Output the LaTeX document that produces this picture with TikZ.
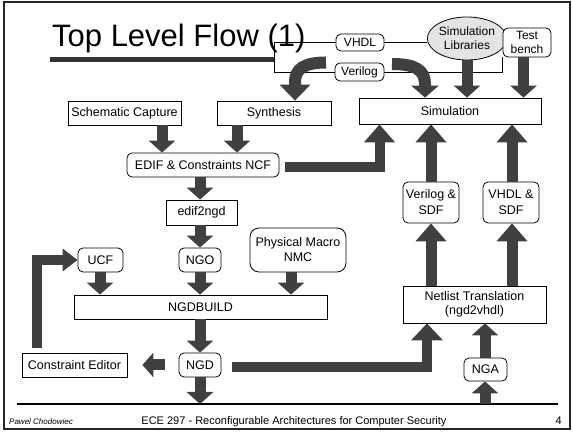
\documentclass[tikz,border=0pt]{standalone}
\usepackage{fontspec}
\setmainfont{Liberation Sans}
\usetikzlibrary{arrows.meta,calc,shapes.geometric}

\definecolor{arrowgray}{HTML}{404040}
\definecolor{rulegray}{HTML}{333333}
\definecolor{libgray}{HTML}{E4E4E4}

\begin{document}
\begin{tikzpicture}[x=1pt,y=-1pt,
  box/.style={draw=black, line width=0.8pt, fill=white, inner sep=0pt, align=center,
              font=\fontsize{12.5}{15}\selectfont},
  rbox/.style={box, rounded corners=5pt},
  blk/.style={draw=arrowgray, line width=11pt, line join=miter,
              -{Triangle[width=26pt,length=12pt]}},
  bigblk/.style={blk, -{Triangle[width=30pt,length=18pt]}},
  thin/.style={draw=black, line width=0.8pt}
]
% page and frame
\useasboundingbox (0,0) rectangle (573,435);
\fill[white] (0,0) rectangle (573,435);
\draw[line width=2.5pt, black!85] (4,2) rectangle (570,429);

% title
\node[anchor=base west, inner sep=0pt, font=\fontsize{31}{36}\selectfont] (title) at (52,47) {Top Level Flow (1)};
\coordinate (busBL) at (274,72);
\coordinate (rule) at (50,59.5);

% HDL source boxes
\node[rbox, font=\fontsize{12}{14}\selectfont, minimum width=48pt, minimum height=17pt] (vhdl) at (360,42.5) {VHDL};
\node[rbox, font=\fontsize{12}{14}\selectfont, minimum width=49pt, minimum height=18pt] (verilog) at (359.5,72) {Verilog};
\node[ellipse, draw=black, line width=0.8pt, fill=libgray, inner sep=0pt, align=center,
      minimum width=70pt, minimum height=43pt, font=\fontsize{12}{14}\selectfont] (lib) at (467,38.5) {Simulation\\Libraries};
\node[rbox, font=\fontsize{12}{14.5}\selectfont, minimum width=48pt, minimum height=29pt] (tb) at (527,42.5) {Test\\bench};

% thin bus lines
\draw[line width=5pt, rulegray] (rule) -- (rule -| busBL);
\draw[thin] (vhdl.west) -| (busBL) -- (verilog.west);
\draw[thin] (vhdl.east) -- (vhdl.east -| lib.west);
\draw[thin] (verilog.east) -| (tb.south west);

% flow boxes
\node[box, minimum width=113pt, minimum height=24pt] (sch) at (124.5,113) {Schematic Capture};
\node[box, minimum width=114pt, minimum height=24pt] (syn) at (274,113) {Synthesis};
\node[box, minimum width=182pt, minimum height=26pt] (sim) at (450,111) {Simulation};
\node[rbox, minimum width=152pt, minimum height=24pt] (edif) at (203,165) {EDIF \& Constraints NCF};
\node[box, minimum width=71pt, minimum height=25pt] (e2n) at (201.5,212.5) {edif2ngd};
\node[rbox, minimum width=42pt, minimum height=24pt] (ngo) at (200,260) {NGO};
\node[rbox, minimum width=45pt, minimum height=24pt] (ucf) at (100.5,260) {UCF};
\node[box, rounded corners=9pt, minimum width=96pt, minimum height=44pt] (pm) at (298,250) {Physical Macro\\NMC};
\node[box, minimum width=253pt, minimum height=24pt] (ngdb) at (200.5,307) {NGDBUILD};
\node[rbox, minimum width=42pt, minimum height=24pt] (ngd) at (200,365) {NGD};
\node[box, minimum width=105pt, minimum height=24pt] (ce) at (74.5,365) {Constraint Editor};
\node[box, font=\fontsize{12.5}{14.5}\selectfont, minimum width=143pt, minimum height=37pt] (net) at (474.5,304.5) {Netlist Translation\\(ngd2vhdl)};
\node[rbox, minimum width=43pt, minimum height=23pt] (nga) at (485.5,369.5) {NGA};
\node[rbox, font=\fontsize{12.5}{16}\selectfont, minimum width=56pt, minimum height=41pt] (vsdf) at (431,202.5) {Verilog \&\\SDF};
\node[rbox, font=\fontsize{12.5}{16}\selectfont, minimum width=56pt, minimum height=41pt] (hsdf) at (511,202.5) {VHDL \&\\SDF};

% footer
\coordinate (fl) at (17,404);
\coordinate (fr) at (558,404);
\draw[line width=1.5pt] (fl) -- (fr);
\node[anchor=base west, inner sep=0pt, font=\fontsize{8}{9}\selectfont\itshape] (auth) at (9,424.5) {Pawel Chodowiec};
\node[anchor=base, inner sep=0pt, font=\fontsize{11}{13}\selectfont] (course) at (294,424.5) {ECE 297 - Reconfigurable Architectures for Computer Security};
\node[anchor=base east, inner sep=0pt, font=\fontsize{11}{13}\selectfont] (page) at (562,424.5) {4};

% curved arrows from the HDL sources
\coordinate (hdlL) at (326,62.5);
\coordinate (hdlR) at (392,64);
\draw[blk, line width=12pt, -{Triangle[width=30pt,length=16pt]}]
  (hdlL) .. controls (304,62.5) and (295,69) .. (295,82) -- (syn.north -| 295,0);
\draw[blk, line width=12pt, -{Triangle[width=27pt,length=12pt]}]
  (hdlR) .. controls (415,64) and (425,70) .. (425,84) -- (sim.north -| 425,0);
\draw[blk] (lib.south) -- (lib.south |- sim.north);
\draw[blk] ($(tb.south)+(-3.5,0)$) -- ($(tb.south |- sim.north)+(-3.5,0)$);

% main flow arrows
\draw[blk] (162,0 |- sch.south) -- (162,0 |- edif.north);
\draw[blk] (237,0 |- syn.south) -- (237,0 |- edif.north);
\draw[blk] (200,0 |- edif.south) -- (200,0 |- e2n.north);
\draw[blk] (200,0 |- e2n.south) -- (200,0 |- ngo.north);
\draw[blk] (ngo.south) -- (ngo.south |- ngdb.north);
\draw[blk] (100,0 |- ucf.south) -- (100,0 |- ngdb.north);
\draw[blk] (291,0 |- pm.south) -- (291,0 |- ngdb.north);
\draw[blk] (200,0 |- ngdb.south) -- (ngd.north);
\draw[blk, -{Triangle[width=24pt,length=11pt]}] ($(ngd.west)+(-14,0)$) -- ($(ce.east)+(15,0)$);
\draw[blk] (ngd.south) -- (ngd.south |- fl);
\draw[blk, line width=10pt, -{Triangle[width=22pt,length=15pt]}] ($(ce.north)+(-37.5,-5)$) |- (ucf.west);

% back-end arrows
\draw[bigblk, line width=10pt, -{Triangle[width=31pt,length=17pt]}] ($(ngd.east)+(11,2)$) -| (427,0 |- net.south);
\draw[bigblk, line width=10pt] ($(edif.east)+(6,2)$) -| (379.5,0 |- sim.south);
\draw[blk] (485,0 |- fl) -- (485,0 |- nga.south);
\draw[blk] (485,0 |- nga.north) -- (485,0 |- net.south);
\draw[bigblk] (vsdf.south |- net.north) -- (vsdf.south);
\draw[bigblk] (512,0 |- net.north) -- (512,0 |- hsdf.south);
\draw[bigblk] (vsdf.north) -- (vsdf.north |- sim.south);
\draw[bigblk] (512,0 |- hsdf.north) -- (512,0 |- sim.south);
\end{tikzpicture}
\end{document}
